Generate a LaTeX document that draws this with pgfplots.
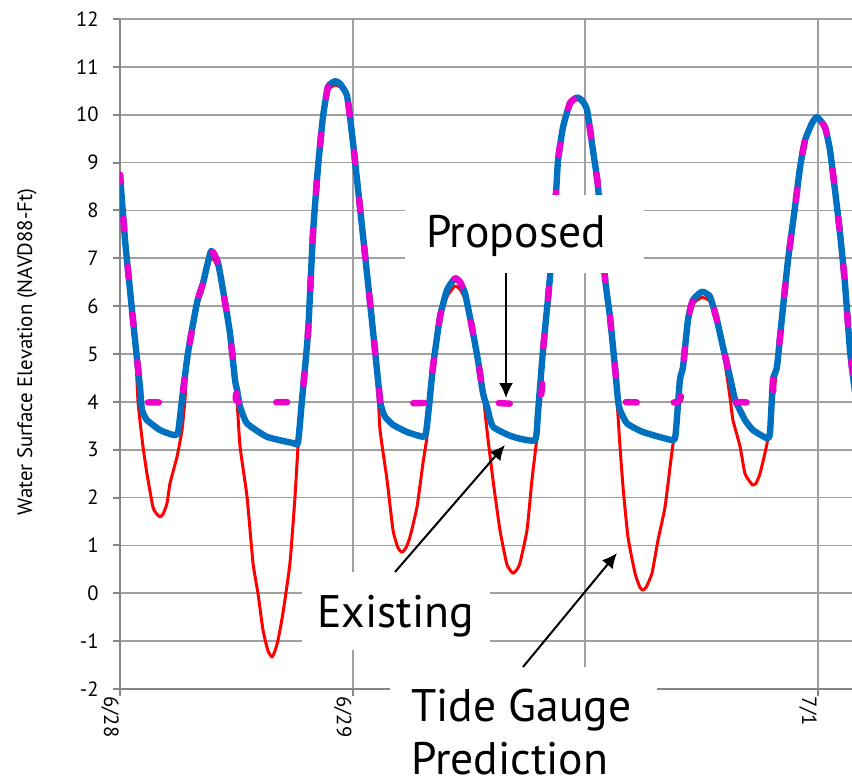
\documentclass[border=0pt]{standalone}
\usepackage{pgfplots}
\pgfplotsset{compat=1.18}
\usepackage{pgfplotstable}
\usepackage{fontspec}
\setmainfont{PT Sans}
\usetikzlibrary{arrows.meta}
\definecolor{exblue}{RGB}{0,112,192}
\definecolor{prmag}{RGB}{236,0,204}
\definecolor{gridgray}{RGB}{160,160,160}
\definecolor{axgray}{RGB}{134,134,134}

% Tide Gauge Prediction (hours from 6/28 00:00, ft NAVD88)
\pgfplotstableread{
h v
0 8.7
0.52 7.38
1.03 6.34
1.55 5.29
1.86 4.0
2.37 3.07
2.78 2.5
3.40 1.8
3.82 1.65
4.13 1.6
4.43 1.65
4.85 1.88
5.16 2.3
5.88 2.85
6.39 3.41
6.70 4.04
7.01 5.0
7.94 6.05
8.56 6.45
9.39 7.02
10.11 6.8
10.62 6.3
11.34 5.4
11.86 4.46
12.07 4.04
12.38 3.07
13.10 2.02
13.72 0.63
14.23 0.0
14.75 -0.77
15.26 -1.2
15.68 -1.33
15.99 -1.2
16.30 -0.98
16.81 -0.41
17.53 0.63
18.05 2.02
18.36 3.06
18.77 4.04
19.39 5.44
19.91 7.5
20.42 8.85
20.94 9.9
21.45 10.5
22.17 10.62
22.69 10.58
23.41 10.35
23.93 9.55
24.75 8.07
25.58 6.48
26.30 5.08
26.61 4.25
26.82 3.41
27.54 2.37
28.16 1.32
28.67 0.95
29.08 0.86
29.50 0.95
29.91 1.18
30.63 1.8
31.25 2.72
31.66 3.27
31.87 3.9
32.28 4.7
33.00 5.7
33.73 6.2
34.55 6.42
35.07 6.35
35.58 6.15
36.30 5.5
36.92 4.85
37.44 4.18
37.85 3.41
38.47 2.37
39.19 1.32
39.91 0.6
40.53 0.42
40.95 0.5
41.25 0.63
41.98 1.32
42.49 2.37
43.01 3.27
43.11 3.77
43.63 5.08
44.35 6.55
44.97 8.3
45.18 9.0
45.69 9.7
46.41 10.18
47.13 10.32
47.65 10.25
48.17 10.05
48.78 9.2
49.30 8.45
50.02 6.6
50.54 5.77
51.05 4.73
51.26 4.04
51.57 3.07
51.88 2.23
52.39 1.18
53.12 0.42
53.63 0.12
53.94 0.07
54.25 0.12
54.87 0.42
55.49 1.11
56.21 1.8
56.91 2.93
57.24 3.41
57.55 4.0
57.75 4.46
58.07 4.7
58.58 5.65
59.10 6.05
60.02 6.18
60.85 6.1
61.57 5.65
62.19 5.1
62.91 4.1
63.22 3.62
63.95 3.07
64.46 2.5
65.08 2.3
65.29 2.26
65.60 2.3
66.01 2.5
66.73 3.13
67.35 4.04
67.76 4.73
68.28 5.77
68.90 6.96
69.62 8.07
70.14 8.9
70.66 9.45
71.37 9.8
71.89 9.92
72.71 9.72
73.23 9.26
73.74 8.43
74.26 7.53
74.77 6.48
75.29 5.08
75.81 4.2
}\redtable

% Existing
\pgfplotstableread{
h v
0 8.75
0.52 7.38
1.03 6.34
1.55 5.29
2.06 4.31
2.27 3.83
2.78 3.62
4.13 3.41
5.47 3.31
5.98 3.35
6.39 4.04
7.01 5.02
7.94 6.07
8.56 6.48
9.39 7.15
10.11 6.9
10.62 6.34
11.34 5.44
11.86 4.46
12.07 4.25
12.38 3.9
13.10 3.55
15.16 3.27
17.84 3.14
18.36 3.15
18.77 4.04
19.39 5.44
19.91 7.53
20.42 8.9
20.94 9.96
21.45 10.58
22.17 10.7
22.69 10.65
23.41 10.4
23.93 9.6
24.75 8.07
25.58 6.48
26.30 5.08
26.82 4.04
27.02 3.85
27.33 3.69
28.16 3.52
29.60 3.37
31.25 3.27
31.56 3.35
31.87 3.9
32.28 4.73
33.00 5.77
33.73 6.34
34.55 6.58
35.07 6.5
35.58 6.27
36.30 5.56
36.92 4.87
37.44 4.18
37.85 3.9
38.47 3.48
40.53 3.27
42.80 3.2
43.11 3.77
43.63 5.08
44.35 6.61
44.97 8.36
45.18 9.05
45.69 9.74
46.41 10.24
47.13 10.36
47.65 10.3
48.17 10.1
48.78 9.26
49.30 8.5
50.02 6.6
50.54 5.77
51.05 4.73
51.36 4.04
51.57 3.83
52.29 3.55
53.94 3.37
57.03 3.2
57.34 3.4
57.75 4.46
58.07 4.73
58.58 5.71
59.10 6.13
60.02 6.3
60.85 6.2
61.57 5.71
62.19 5.15
62.91 4.52
63.43 4.04
63.64 3.95
64.46 3.62
65.29 3.41
66.73 3.24
67.04 3.35
67.35 4.46
67.76 4.73
68.28 5.77
68.90 6.96
69.62 8.07
70.14 8.9
70.66 9.47
71.37 9.82
71.89 9.95
72.71 9.74
73.23 9.26
73.74 8.43
74.26 7.53
74.77 6.48
75.29 5.08
75.81 4.2
}\bluetable

% Proposed
\pgfplotstableread{
h v
0 8.75
0.52 7.38
1.03 6.34
1.55 5.29
2.06 4.31
2.15 4.0
6.36 4.0
6.39 4.04
7.01 5.02
7.94 6.07
8.56 6.48
9.39 7.15
10.11 6.9
10.62 6.34
11.34 5.44
11.86 4.46
12.07 4.25
12.20 4.0
18.75 4.0
18.77 4.04
19.39 5.44
19.91 7.53
20.42 8.9
20.94 9.96
21.45 10.58
22.17 10.7
22.69 10.65
23.41 10.4
23.93 9.6
24.75 8.07
25.58 6.48
26.30 5.08
26.82 4.04
26.85 4.0
31.92 4.0
32.28 4.73
33.00 5.77
33.73 6.34
34.55 6.58
35.07 6.5
35.58 6.27
36.30 5.56
36.92 4.87
37.44 4.18
37.70 4.0
43.20 4.0
43.63 5.08
44.35 6.61
44.97 8.36
45.18 9.05
45.69 9.74
46.41 10.24
47.13 10.36
47.65 10.3
48.17 10.1
48.78 9.26
49.30 8.5
50.02 6.6
50.54 5.77
51.05 4.73
51.36 4.04
51.38 4.0
57.57 4.0
57.75 4.46
58.07 4.73
58.58 5.71
59.10 6.13
60.02 6.3
60.85 6.2
61.57 5.71
62.19 5.15
62.91 4.52
63.43 4.04
63.46 4.0
67.22 4.0
67.35 4.46
67.76 4.73
68.28 5.77
68.90 6.96
69.62 8.07
70.14 8.9
70.66 9.47
71.37 9.82
71.89 9.95
72.71 9.74
73.23 9.26
73.74 8.43
74.26 7.53
74.77 6.48
75.29 5.08
75.81 4.2
}\magtable

\begin{document}
\begin{tikzpicture}
\useasboundingbox (-60pt,-47pt) rectangle (366pt,344.5pt);
\begin{axis}[
  at={(0pt,0pt)}, anchor=south west,
  scale only axis, width=366pt, height=335pt,
  xmin=0, xmax=75.5, ymin=-2, ymax=12,
  axis x line*=bottom, axis y line*=left,
  xtick={0,24,48,72}, xticklabels={6/28,6/29,6/30,7/1},
  ytick={-2,-1,...,12},
  grid=major,
  major grid style={gridgray, line width=0.9pt},
  axis line style={axgray, line width=1pt},
  tick style={axgray, line width=1pt},
  tick align=outside, major tick length=3.5pt,
  x tick label style={rotate=-90, anchor=west, font=\fontsize{10.3}{12}\selectfont, inner sep=0pt, yshift=-5pt},
  y tick label style={font=\fontsize{10.3}{12}\selectfont, inner sep=0pt, xshift=-7pt},
  /pgf/number format/assume math mode=true,
  clip=true,
]
\addplot[red, line width=1.5pt, line join=round, smooth, tension=0.3] table[x=h,y=v]{\redtable};
\addplot[exblue, line width=3.2pt, line join=round, smooth, tension=0.3] table[x=h,y=v]{\bluetable};
\addplot[prmag, line width=3.2pt, line cap=round, line join=round, smooth, tension=0.3, dash pattern=on 5.5pt off 18.5pt, dash phase=2pt] table[x=h,y=v]{\magtable};
\end{axis}
\begin{scope}[shift={(-60pt,344.5pt)}, x=0.5pt, y=-0.5pt]
  \node[rotate=90, font=\fontsize{10.4}{12}\selectfont] at (27,352) {Water Surface Elevation (NAVD88-Ft)};
  \fill[white] (405,195) rectangle (644,273);
  \fill[white] (302,572) rectangle (490,650);
  \fill[white] (390,667) rectangle (657,800);
  \node[anchor=base, font=\fontsize{22.8}{26}\selectfont, inner sep=0pt] at (516,248) {Proposed};
  \node[anchor=base, font=\fontsize{22.8}{26}\selectfont, inner sep=0pt] at (395.5,627) {Existing};
  \node[anchor=base west, font=\fontsize{22.8}{26}\selectfont, inner sep=0pt] at (411,721) {Tide Gauge};
  \node[anchor=base west, font=\fontsize{22.8}{26}\selectfont, inner sep=0pt] at (411,774) {Prediction};
  \draw[black, line width=1pt, -{Latex[length=7.5pt,width=7pt]}] (506,273) -- (506,398);
  \draw[black, line width=1pt, -{Latex[length=7.5pt,width=7pt]}] (395,572) -- (505,445);
  \draw[black, line width=1pt, -{Latex[length=7.5pt,width=7pt]}] (523,667) -- (617,553);
\end{scope}
\end{tikzpicture}
\end{document}
